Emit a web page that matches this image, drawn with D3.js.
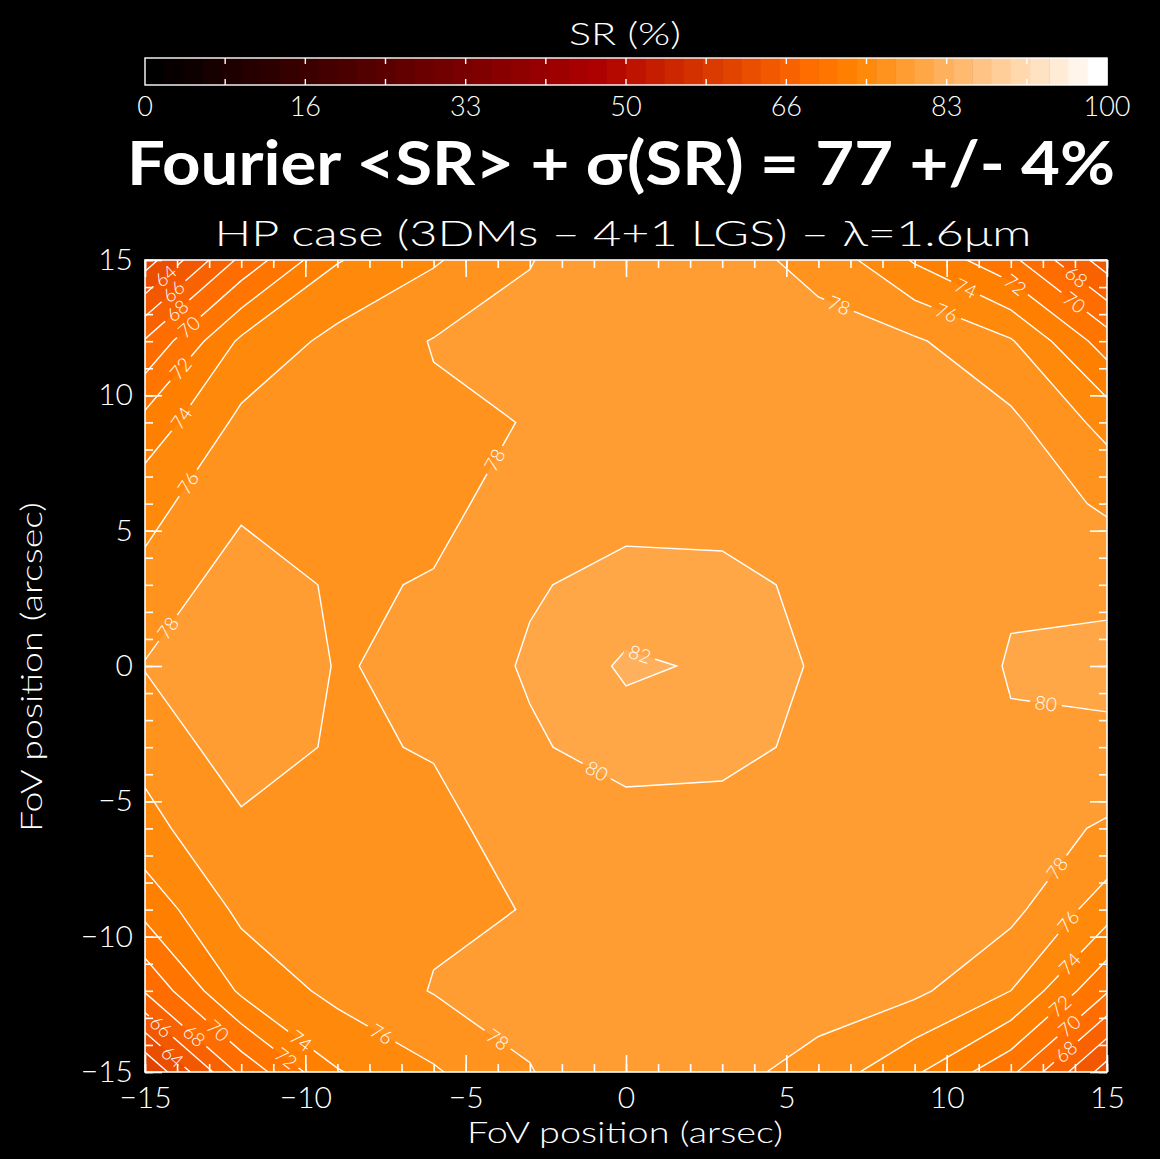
<!DOCTYPE html>
<html>
<head>
<meta charset="utf-8">
<script src="https://cdn.jsdelivr.net/npm/d3@7"></script>
<style>
  body { margin: 0; background: #000; }
  .hf { font-family: Lato, "DejaVu Sans", sans-serif; font-weight: 300; fill: #fff; }
</style>
</head>
<body>
<svg id="chart" width="1160" height="1159"></svg>
<script>
// Field positions (arcsec) of the sampled grid
const fovX = [-15, -12, -9, -6, -3, 0, 3, 6, 9, 12, 15];
const fovY = [15, 12, 9, 6, 3, 0, -3, -6, -9, -12, -15];   // rows, top to bottom

// Strehl ratio (%) at each field position, one row per fovY entry
const srRows = [
  [61.0, 68.5, 73.87, 75.77, 77.92, 79.43, 78.6, 77.54, 73.78, 70.5, 65.0],
  [68.2, 74.4, 76.6, 78.1, 78.6, 79.2, 79.0, 78.55, 78.28, 76.2, 71.0],
  [72.67, 76.49, 77.2, 77.71, 78.05, 79.0, 79.1, 79.0, 78.8, 78.46, 75.3],
  [75.3, 77.6, 77.3, 77.48, 78.84, 79.12, 79.16, 79.2, 79.0, 78.77, 77.8],
  [76.6, 79.1, 77.72, 78.13, 79.75, 80.8, 80.6, 79.53, 79.3, 79.88, 79.0],
  [78.11, 79.43, 77.9, 78.34, 80.3, 82.3, 81.73, 79.69, 79.2, 80.08, 81.3],
  [76.6, 79.1, 77.72, 78.13, 79.66, 81.07, 80.6, 79.53, 79.3, 79.88, 79.0],
  [75.4, 77.6, 77.3, 77.48, 78.84, 78.89, 79.16, 79.0, 79.0, 78.6, 77.84],
  [72.67, 76.49, 77.2, 77.71, 78.05, 79.0, 79.1, 79.0, 78.8, 78.59, 74.9],
  [68.2, 74.4, 76.6, 78.1, 78.6, 79.2, 79.0, 78.9, 78.44, 76.0, 70.2],
  [60.0, 68.5, 73.87, 75.77, 77.92, 79.43, 78.6, 77.3, 74.3, 70.5, 63.0]
];

// Contour levels (%), 2% apart, also used for the colour bar steps
const srLevels = d3.range(0, 100, 2);

// Labelled contours: level and where along the field the label sits
const contourLabels = [
  {level: 64, x: -14.2, y: 14.2}, {level: 66, x: -14.0, y: 13.7}, {level: 68, x: -13.9, y: 13.0},
  {level: 70, x: -13.5, y: 12.35}, {level: 72, x: -13.85, y: 10.95}, {level: 74, x: -13.85, y: 9.15},
  {level: 76, x: -13.7, y: 6.8}, {level: 78, x: -14.4, y: 1.5}, {level: 78, x: -4.0, y: 7.55},
  {level: 78, x: 6.65, y: 13.35}, {level: 76, x: 10.05, y: 13.25}, {level: 74, x: 10.65, y: 14.1},
  {level: 72, x: 12.05, y: 13.95}, {level: 70, x: 13.85, y: 13.25}, {level: 68, x: 13.8, y: 14.0},
  {level: 82, x: 0.45, y: 0.5}, {level: 80, x: -0.9, y: -3.85}, {level: 80, x: 13.1, y: -1.35},
  {level: 78, x: 13.3, y: -7.35}, {level: 76, x: 13.75, y: -9.4}, {level: 74, x: 13.75, y: -10.9},
  {level: 72, x: 13.45, y: -12.45}, {level: 70, x: 13.6, y: -13.0}, {level: 68, x: 13.5, y: -13.95},
  {level: 66, x: -14.45, y: -13.25}, {level: 68, x: -13.3, y: -13.45}, {level: 70, x: -12.6, y: -13.3},
  {level: 64, x: -13.9, y: -14.1}, {level: 74, x: -9.95, y: -13.55}, {level: 72, x: -10.45, y: -14.25},
  {level: 76, x: -7.65, y: -13.65}, {level: 78, x: -4.0, y: -13.8}
];

const axisTicks = [-15, -10, -5, 0, 5, 10, 15];
const barTickLabels = ["0", "16", "33", "50", "66", "83", "100"];

const svg = d3.select("#chart");
svg.append("rect").attr("width", 1160).attr("height", 1159).attr("fill", "#000");

const plot = {left: 145, right: 1107, top: 260, bottom: 1072};
const x = d3.scaleLinear().domain([-15, 15]).range([plot.left, plot.right]);
const y = d3.scaleLinear().domain([-15, 15]).range([plot.bottom, plot.top]);

// IDL "Red Temperature" colour table
function redTemperature(idx) {
  const r = Math.min(255, Math.round(idx * 255 / 176));
  const g = Math.max(0, Math.min(255, Math.round((idx - 120) * 255 / 135)));
  const b = Math.max(0, Math.min(255, Math.round((idx - 190) * 255 / 65)));
  return d3.rgb(r, g, b).formatHex();
}
const stepColor = k => redTemperature(k * 255 / (srLevels.length - 1));
const levelColor = lv => stepColor(srLevels.indexOf(lv));

// ---- contour field ----
const nx = fovX.length, ny = fovY.length;
const padded = [];
for (let r = -1; r <= ny; r++) {
  for (let c = -1; c <= nx; c++) {
    const rr = Math.max(0, Math.min(ny - 1, r));
    const cc = Math.max(0, Math.min(nx - 1, c));
    padded.push(srRows[rr][cc]);
  }
}
const stepX = fovX[1] - fovX[0], stepY = fovY[1] - fovY[0];
const gridToX = c => fovX[0] + stepX * (c - 1.5);
const gridToY = r => fovY[0] + stepY * (r - 1.5);
const toPx = p => [x(gridToX(p[0])), y(gridToY(p[1]))];

const contours = d3.contours().size([nx + 2, ny + 2]).thresholds(srLevels)(padded);
const proj = d3.geoTransform({
  point(px, py) { const q = toPx([px, py]); this.stream.point(q[0], q[1]); }
});
const path = d3.geoPath(proj);

const defs = svg.append("defs");
defs.append("clipPath").attr("id", "plotClip").append("rect")
  .attr("x", plot.left).attr("y", plot.top)
  .attr("width", plot.right - plot.left).attr("height", plot.bottom - plot.top);

svg.append("g").attr("clip-path", "url(#plotClip)")
  .selectAll("path").data(contours).join("path")
  .attr("d", path)
  .attr("fill", d => levelColor(d.value))
  .attr("stroke", "none");

// ---- label placement on the contour lines ----
function nearestOnLevel(level, ax, ay) {
  const c = contours.find(d => d.value === level);
  let best = null;
  c.coordinates.forEach(poly => poly.forEach(ring => {
    for (let i = 0; i < ring.length - 1; i++) {
      const a = toPx(ring[i]), b = toPx(ring[i + 1]);
      const mx = (a[0] + b[0]) / 2, my = (a[1] + b[1]) / 2;
      if (mx < plot.left || mx > plot.right || my < plot.top || my > plot.bottom) continue;
      const dx = b[0] - a[0], dy = b[1] - a[1];
      const L2 = dx * dx + dy * dy;
      if (!L2) continue;
      let t = ((ax - a[0]) * dx + (ay - a[1]) * dy) / L2;
      t = Math.max(0, Math.min(1, t));
      const qx = a[0] + t * dx, qy = a[1] + t * dy;
      const d2 = (qx - ax) ** 2 + (qy - ay) ** 2;
      if (!best || d2 < best.d2) {
        let ang = Math.atan2(dy, dx) * 180 / Math.PI;
        if (ang > 90) ang -= 180;
        if (ang <= -90) ang += 180;
        best = {d2, x: qx, y: qy, ang};
      }
    }
  }));
  return best;
}
const placed = contourLabels.map(l => Object.assign({level: l.level}, nearestOnLevel(l.level, x(l.x), y(l.y))));

const mask = defs.append("mask").attr("id", "labelGaps")
  .attr("maskUnits", "userSpaceOnUse").attr("x", 0).attr("y", 0).attr("width", 1160).attr("height", 1159);
mask.append("rect").attr("width", 1160).attr("height", 1159).attr("fill", "#fff");
mask.selectAll("rect.gap").data(placed).join("rect").attr("class", "gap")
  .attr("x", -16).attr("y", -9).attr("width", 32).attr("height", 18).attr("fill", "#000")
  .attr("transform", d => `translate(${d.x},${d.y}) rotate(${d.ang})`);

svg.append("g").attr("clip-path", "url(#plotClip)")
  .append("g").attr("mask", "url(#labelGaps)")
  .selectAll("path").data(contours).join("path")
  .attr("d", path)
  .attr("fill", "none")
  .attr("stroke", "#fff")
  .attr("stroke-width", 1.4);

svg.append("g").selectAll("text").data(placed).join("text")
  .attr("class", "hf")
  .attr("transform", d => `translate(${d.x},${d.y}) rotate(${d.ang})`)
  .attr("text-anchor", "middle").attr("dy", "0.36em")
  .attr("font-size", 19)
  .text(d => d.level);

// ---- frame and axes ----
svg.append("rect")
  .attr("x", plot.left).attr("y", plot.top)
  .attr("width", plot.right - plot.left).attr("height", plot.bottom - plot.top)
  .attr("fill", "none").attr("stroke", "#fff").attr("stroke-width", 1.6);

const minorTicks = d3.range(-15, 16, 1);
const fmt = d => d3.format("d")(d);
function styleAxis(g) {
  g.select(".domain").remove();
  g.selectAll("line").attr("stroke", "#fff").attr("stroke-width", 1.6);
  g.selectAll("text").attr("class", "hf").attr("font-size", 30).attr("fill", "#fff");
}
svg.append("g").attr("transform", `translate(0,${plot.bottom})`)
  .call(d3.axisBottom(x).tickValues(minorTicks).tickSize(-8).tickFormat("")).call(styleAxis);
svg.append("g").attr("transform", `translate(0,${plot.bottom})`)
  .call(d3.axisBottom(x).tickValues(axisTicks).tickSize(-17).tickPadding(15).tickFormat(fmt)).call(styleAxis);
svg.append("g").attr("transform", `translate(0,${plot.top})`)
  .call(d3.axisTop(x).tickValues(minorTicks).tickSize(-8).tickFormat("")).call(styleAxis);
svg.append("g").attr("transform", `translate(0,${plot.top})`)
  .call(d3.axisTop(x).tickValues(axisTicks).tickSize(-17).tickFormat("")).call(styleAxis);
svg.append("g").attr("transform", `translate(${plot.left},0)`)
  .call(d3.axisLeft(y).tickValues(minorTicks).tickSize(-8).tickFormat("")).call(styleAxis);
svg.append("g").attr("transform", `translate(${plot.left},0)`)
  .call(d3.axisLeft(y).tickValues(axisTicks).tickSize(-17).tickPadding(12).tickFormat(fmt)).call(styleAxis);
svg.append("g").attr("transform", `translate(${plot.right},0)`)
  .call(d3.axisRight(y).tickValues(minorTicks).tickSize(-8).tickFormat("")).call(styleAxis);
svg.append("g").attr("transform", `translate(${plot.right},0)`)
  .call(d3.axisRight(y).tickValues(axisTicks).tickSize(-17).tickFormat("")).call(styleAxis);

svg.append("text").attr("class", "hf").attr("font-size", 30)
  .attr("x", 625).attr("y", 1143).attr("text-anchor", "middle")
  .attr("textLength", 316).attr("lengthAdjust", "spacingAndGlyphs")
  .text("FoV position (arsec)");
svg.append("text").attr("class", "hf").attr("font-size", 30)
  .attr("transform", "translate(42,667) rotate(-90)").attr("text-anchor", "middle")
  .attr("textLength", 330).attr("lengthAdjust", "spacingAndGlyphs")
  .text("FoV position (arcsec)");

// ---- colour bar ----
const bar = {left: 145, right: 1107, top: 58, bottom: 85};
const xb = d3.scaleLinear().domain([0, 100]).range([bar.left, bar.right]);
svg.append("g").selectAll("rect").data(srLevels).join("rect")
  .attr("x", d => xb(d)).attr("y", bar.top)
  .attr("width", d => xb(d + 2) - xb(d) + 0.5).attr("height", bar.bottom - bar.top)
  .attr("fill", d => levelColor(d));
svg.append("rect").attr("x", bar.left).attr("y", bar.top)
  .attr("width", bar.right - bar.left).attr("height", bar.bottom - bar.top)
  .attr("fill", "none").attr("stroke", "#fff").attr("stroke-width", 1.4);
const barTicks = d3.range(1, 12).map(i => i * 100 / 12);
svg.append("g").selectAll("line").data(barTicks).join("line")
  .attr("x1", d => xb(d)).attr("x2", d => xb(d)).attr("y1", bar.top).attr("y2", bar.top + 6)
  .attr("stroke", "#fff").attr("stroke-width", 1.4);
svg.append("g").selectAll("line").data(barTicks).join("line")
  .attr("x1", d => xb(d)).attr("x2", d => xb(d)).attr("y1", bar.bottom).attr("y2", bar.bottom - 6)
  .attr("stroke", "#fff").attr("stroke-width", 1.4);
svg.append("g").selectAll("text").data(barTickLabels).join("text")
  .attr("class", "hf").attr("font-size", 27)
  .attr("x", (d, i) => xb(i * 100 / 6)).attr("y", 116).attr("text-anchor", "middle")
  .text(d => d);
svg.append("text").attr("class", "hf").attr("font-size", 31)
  .attr("x", 625).attr("y", 45).attr("text-anchor", "middle")
  .attr("textLength", 112).attr("lengthAdjust", "spacingAndGlyphs")
  .text("SR (%)");

// ---- titles ----
svg.append("text")
  .attr("x", 621).attr("y", 185).attr("text-anchor", "middle")
  .attr("font-family", "Lato, 'Open Sans', sans-serif").attr("font-weight", 700)
  .attr("font-size", 61).attr("fill", "#fff")
  .attr("textLength", 988).attr("lengthAdjust", "spacingAndGlyphs")
  .text("Fourier <SR> + σ(SR) = 77 +/- 4%");
svg.append("text").attr("class", "hf").attr("font-size", 36)
  .attr("x", 623).attr("y", 246).attr("text-anchor", "middle")
  .attr("textLength", 817).attr("lengthAdjust", "spacingAndGlyphs")
  .text("HP case (3DMs – 4+1 LGS) – λ=1.6μm");
</script>
</body>
</html>
